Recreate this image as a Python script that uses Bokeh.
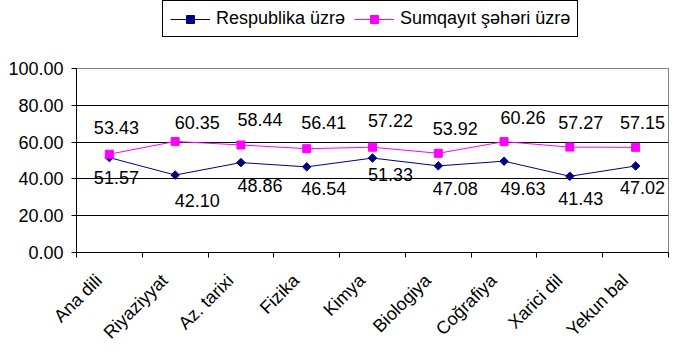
import math
from bokeh.plotting import figure
from bokeh.layouts import column
from bokeh.models import (ColumnDataSource, FixedTicker, NumeralTickFormatter,
                          Legend, LegendItem, Range1d)
from bokeh.core.properties import value
from bokeh.embed import file_html
from bokeh.resources import INLINE

categories = ["Ana dili", "Riyaziyyat", "Az. tarixi", "Fizika", "Kimya",
              "Biologiya", "Coğrafiya", "Xarici dil", "Yekun bal"]
respublika = [51.57, 42.10, 48.86, 46.54, 51.33, 47.08, 49.63, 41.43, 47.02]
sumqayit = [53.43, 60.35, 58.44, 56.41, 57.22, 53.92, 60.26, 57.27, 57.15]
y_ticks = [0, 20, 40, 60, 80, 100]
series_names = ["Respublika üzrə", "Sumqayıt şəhəri üzrə"]

# label placement (screen px) as in the original chart
label_dx = [7, 22, 19, 17, 18, 17, 19, 11, 7]
resp_dy = [20, 25, 23, 22, 16, 23, 27, 22, 22]
sumq_dy = [-27, -19, -25, -26, -27, -25, -24, -25, -25]

FONT = "Liberation Sans"
NAVY = "#000080"
MAGENTA = "#FF00FF"
n = len(categories)
xs = [i + 0.5 for i in range(n)]
label_ticks = [x - 0.16 for x in xs]

src = ColumnDataSource(dict(
    x=xs, resp=respublika, sumq=sumqayit,
    resp_txt=[f"{v:.2f}" for v in respublika],
    sumq_txt=[f"{v:.2f}" for v in sumqayit],
    dx=label_dx, rdy=resp_dy, sdy=sumq_dy,
))

LEG_H = 50
p = figure(width=677, height=352 - LEG_H, x_range=Range1d(0, n),
           y_range=Range1d(0, 100),
           output_backend="svg", toolbar_location=None,
           min_border_left=76, min_border_right=9, min_border_top=68 - LEG_H,
           min_border_bottom=99, background_fill_color="white",
           border_fill_color="white")
p.outline_line_color = "#808080"

# axes
p.xaxis.ticker = FixedTicker(ticks=label_ticks, minor_ticks=list(range(n + 1)))
p.xaxis.major_label_overrides = {t: c for t, c in zip(label_ticks, categories)}
p.xaxis.major_label_orientation = math.pi / 4
p.xaxis.major_tick_out = 0
p.xaxis.major_tick_in = 0
p.xaxis.minor_tick_out = 5
p.xaxis.minor_tick_in = 0
p.xaxis.minor_tick_line_color = "black"
p.xaxis.axis_line_color = "black"
p.xaxis.major_label_text_font = FONT
p.xaxis.major_label_text_font_size = "18px"
p.xaxis.major_label_text_color = "black"
p.xaxis.major_label_standoff = 20

p.yaxis.ticker = FixedTicker(ticks=y_ticks)
p.yaxis.formatter = NumeralTickFormatter(format="0.00")
p.yaxis.major_tick_out = 5
p.yaxis.major_tick_in = 0
p.yaxis.minor_tick_line_color = None
p.yaxis.axis_line_color = "black"
p.yaxis.major_tick_line_color = "black"
p.yaxis.major_label_text_font = FONT
p.yaxis.major_label_text_font_size = "18px"
p.yaxis.major_label_text_color = "black"
p.yaxis.major_label_standoff = 8

p.xgrid.visible = False
p.ygrid.ticker = FixedTicker(ticks=[t for t in y_ticks if 0 < t < 100])
p.ygrid.grid_line_color = "black"

# series
p.line("x", "resp", source=src, line_color=NAVY, line_width=1)
p.scatter("x", "resp", source=src, marker="square", angle=math.pi / 4, size=6,
          fill_color=NAVY, line_color=NAVY)
p.line("x", "sumq", source=src, line_color=MAGENTA, line_width=1)
p.scatter("x", "sumq", source=src, marker="square", size=8,
          fill_color=MAGENTA, line_color=MAGENTA)

# data labels
p.text("x", "resp", text="resp_txt", source=src, x_offset="dx", y_offset="rdy",
       text_font=value(FONT), text_font_size="18px", text_align="center",
       text_baseline="middle", text_color="black")
p.text("x", "sumq", text="sumq_txt", source=src, x_offset="dx", y_offset="sdy",
       text_font=value(FONT), text_font_size="18px", text_align="center",
       text_baseline="middle", text_color="black")

# legend strip on top (its frame is aligned with the chart's frame)
lg = figure(width=677, height=LEG_H, x_range=Range1d(0, 1), y_range=Range1d(0, 1),
            output_backend="svg", toolbar_location=None, min_border=0,
            background_fill_color="white", border_fill_color="white")
lg.axis.visible = False
lg.grid.visible = False
lg.outline_line_color = None
offscreen = ColumnDataSource(dict(x=[5, 6], y=[5, 6]))
l1 = lg.line("x", "y", source=offscreen, line_color=NAVY, line_width=1)
m1 = lg.scatter("x", "y", source=offscreen, marker="square", angle=math.pi / 4,
                size=6, fill_color=NAVY, line_color=NAVY)
l2 = lg.line("x", "y", source=offscreen, line_color=MAGENTA, line_width=1)
m2 = lg.scatter("x", "y", source=offscreen, marker="square", size=8,
                fill_color=MAGENTA, line_color=MAGENTA)

legend = Legend(items=[LegendItem(label=series_names[0], renderers=[l1, m1]),
                       LegendItem(label=series_names[1], renderers=[l2, m2])],
                orientation="horizontal", location=(162 - 76, LEG_H - 37))
legend.label_text_font = FONT
legend.label_text_font_size = "18px"
legend.label_text_color = "black"
legend.glyph_width = 40
legend.glyph_height = 20
legend.label_height = 20
legend.label_standoff = 6
legend.spacing = 9
legend.padding = 7
legend.margin = 0
legend.border_line_color = "black"
legend.border_line_width = 1
legend.border_line_alpha = 1
legend.background_fill_color = "white"
legend.background_fill_alpha = 1
lg.add_layout(legend)

layout = column(lg, p, spacing=0)
open("out.html", "w").write(file_html(layout, INLINE))
